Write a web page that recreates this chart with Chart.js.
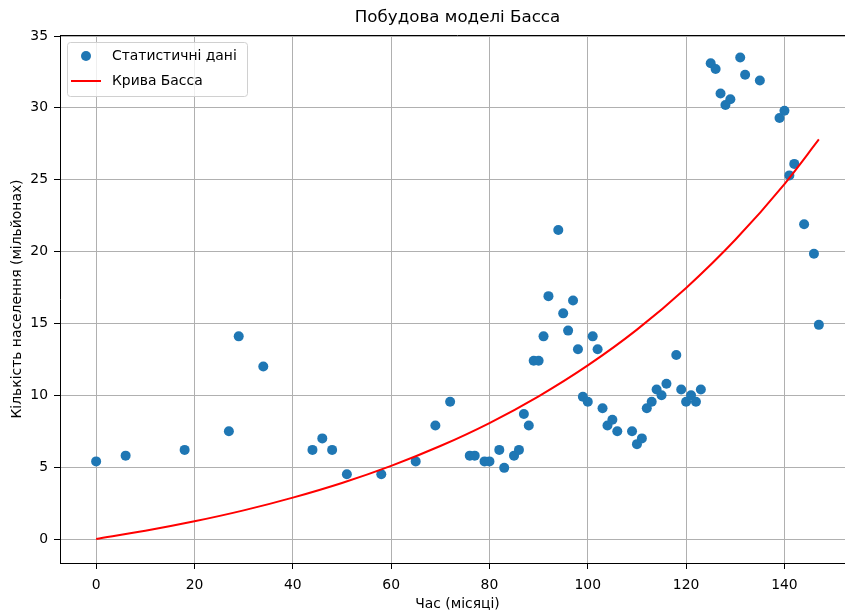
<!DOCTYPE html>
<html>
<head>
<meta charset="utf-8">
<script src="https://cdn.jsdelivr.net/npm/chart.js@4.4.1/dist/chart.umd.min.js"></script>
<style>
html,body{margin:0;padding:0;overflow:hidden;background:#fff;width:845px;height:614px;}
canvas{display:block;}
</style>
</head>
<body>
<canvas id="c" width="860" height="614"></canvas>
<script>
const titleText = "Побудова моделі Басса";
const xTitle = "Час (місяці)";
const yTitle = "Кількість населення (мільйонах)";
const scatterLabel = "Статистичні дані";
const curveLabel = "Крива Басса";

const months = [0,6,18,27,29,34,44,46,48,51,58,65,69,72,76,77,79,80,82,83,85,86,87,88,89,90,91,92,94,95,96,97,98,99,100,101,102,103,104,105,106,109,110,111,112,113,114,115,116,118,119,120,121,122,123,125,126,127,128,129,131,132,135,139,140,141,142,144,146,147];
const population = [5.4,5.8,6.2,7.5,14.1,12.0,6.2,7.0,6.2,4.5,4.5,5.4,7.9,9.55,5.8,5.8,5.4,5.4,6.2,4.95,5.8,6.2,8.7,7.9,12.4,12.4,14.1,16.9,21.5,15.7,14.5,16.6,13.2,9.9,9.55,14.1,13.2,9.1,7.9,8.3,7.5,7.5,6.6,7.0,9.1,9.55,10.4,10.0,10.8,12.8,10.4,9.55,10.0,9.55,10.4,33.1,32.7,31.0,30.2,30.6,33.5,32.3,31.9,29.3,29.8,25.3,26.1,21.9,19.85,14.9];

const curveMonths = [0,10,20,30,40,50,60,70,80,90,100,110,120,130,140,147];
const curveValues = [0,0.57,1.23,1.99,2.88,3.9,5.09,6.47,8.07,9.93,12.08,14.57,17.47,20.82,24.7,27.8];

const xTicks = [0,20,40,60,80,100,120,140];
const yTicks = [0,5,10,15,20,25,30,35];

const FONT = "'DejaVu Sans', sans-serif";
const FS = 13.9;
const BLUE = '#1f77b4';
const RED = '#ff0000';

const scatterPts = months.map((m,i)=>({x:m,y:population[i]}));
const curvePts = curveMonths.map((m,i)=>({x:m,y:curveValues[i]}));

const decor = {
  id:'decor',
  afterDraw(chart){
    const ctx = chart.ctx, a = chart.chartArea;
    ctx.save();
    // top spine
    ctx.strokeStyle = '#000'; ctx.lineWidth = 1;
    ctx.beginPath(); ctx.moveTo(a.left, a.top+0.5); ctx.lineTo(a.right, a.top+0.5); ctx.stroke();
    // title
    ctx.fillStyle = '#000';
    ctx.font = '16.7px ' + FONT;
    ctx.textAlign = 'center'; ctx.textBaseline = 'middle';
    ctx.fillText(titleText, (a.left+a.right)/2, 18);
    // legend
    const lx = a.left+7, ly = a.top+7, lw = 180, lh = 54, r = 3;
    ctx.fillStyle = 'rgba(255,255,255,0.8)';
    ctx.strokeStyle = '#d0d0d0'; ctx.lineWidth = 1;
    ctx.beginPath();
    ctx.roundRect(lx+0.5, ly+0.5, lw, lh, r);
    ctx.fill(); ctx.stroke();
    const ds = chart.data.datasets;
    ctx.font = FS + 'px ' + FONT;
    ctx.textAlign = 'left'; ctx.textBaseline = 'middle';
    // scatter entry
    ctx.fillStyle = BLUE;
    ctx.beginPath(); ctx.arc(lx+19, ly+14, 5, 0, Math.PI*2); ctx.fill();
    ctx.fillStyle = '#000';
    ctx.fillText(ds[0].label, lx+45, ly+14);
    // line entry
    ctx.strokeStyle = RED; ctx.lineWidth = 2;
    ctx.beginPath(); ctx.moveTo(lx+4, ly+39); ctx.lineTo(lx+34, ly+39); ctx.stroke();
    ctx.fillText(ds[1].label, lx+45, ly+39);
    ctx.restore();
  }
};

new Chart(document.getElementById('c'), {
  data:{
    datasets:[
      {type:'scatter', label:scatterLabel, data:scatterPts, backgroundColor:BLUE, borderColor:BLUE, pointRadius:5, pointHoverRadius:5, borderWidth:0, order:2},
      {type:'line', label:curveLabel, data:curvePts, borderColor:RED, backgroundColor:RED, borderWidth:2, pointRadius:0, cubicInterpolationMode:'monotone', fill:false, order:1}
    ]
  },
  options:{
    responsive:false, animation:false,
    layout:{padding:{top:35, right:4, left:0, bottom:0}},
    plugins:{legend:{display:false}, title:{display:false}, tooltip:{enabled:false}},
    scales:{
      x:{
        type:'linear', min:-7.35, max:154.35,
        afterBuildTicks(s){ s.ticks = xTicks.map(v=>({value:v})); },
        afterFit(s){ s.height = 51; },
        grid:{color:'#b0b0b0', lineWidth:1, tickColor:'#000', tickLength:6, drawTicks:true},
        border:{color:'#000', width:1},
        ticks:{color:'#000', font:{family:FONT, size:FS}, padding:8, maxRotation:0},
        title:{display:true, text:xTitle, color:'#000', font:{family:FONT, size:FS}, padding:{top:4, bottom:1}}
      },
      y:{
        type:'linear', min:-1.67, max:35.07,
        afterBuildTicks(s){ s.ticks = yTicks.map(v=>({value:v})); },
        afterFit(s){ s.width = 60; },
        grid:{color:'#b0b0b0', lineWidth:1, tickColor:'#000', tickLength:6, drawTicks:true},
        border:{color:'#000', width:1},
        ticks:{color:'#000', font:{family:FONT, size:FS}, padding:6},
        title:{display:true, text:yTitle, color:'#000', font:{family:FONT, size:FS}, padding:{top:9, bottom:4}}
      }
    }
  },
  plugins:[decor]
});
</script>
</body>
</html>
